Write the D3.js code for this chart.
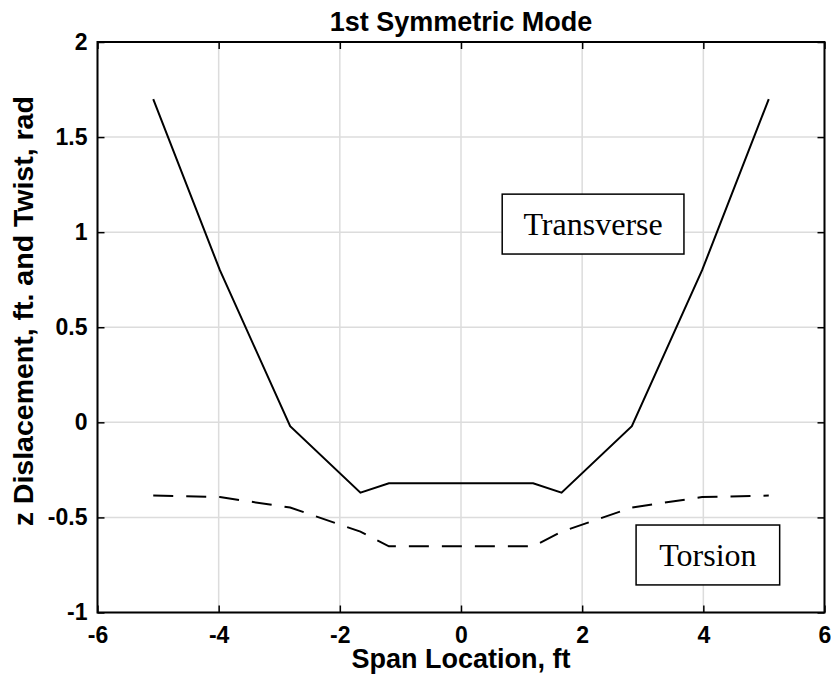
<!DOCTYPE html>
<html>
<head>
<meta charset="utf-8">
<script src="https://cdn.jsdelivr.net/npm/d3@7"></script>
<style>
  html, body { margin: 0; padding: 0; background: #fff; }
  svg { display: block; }
</style>
</head>
<body>
<svg id="chart" width="831" height="675"></svg>
<script>
// ---- data ----
const spanX      = [-5.08, -3.98, -2.82, -1.66, -1.19, 1.19, 1.66, 2.82, 3.98, 5.08];
const transverse = [1.70, 0.80, -0.02, -0.37, -0.32, -0.32, -0.37, -0.02, 0.80, 1.70];
const torsion    = [-0.385, -0.393, -0.448, -0.575, -0.652, -0.652, -0.575, -0.448, -0.393, -0.385];
const xTicks = [-6, -4, -2, 0, 2, 4, 6];
const yTicks = [-1, -0.5, 0, 0.5, 1, 1.5, 2];
const titleText = "1st Symmetric Mode";
const xLabel = "Span Location, ft";
const yLabel = "z Dislacement, ft. and Twist, rad";
const labelTransverse = "Transverse";
const labelTorsion = "Torsion";

// ---- layout ----
const L = 97.5, R = 824.5, T = 42, B = 612.5;
const svg = d3.select("#chart");
const x = d3.scaleLinear().domain([-6, 6]).range([L, R]);
const y = d3.scaleLinear().domain([-1, 2]).range([B, T]);
const sans = "Liberation Sans, Arial, Helvetica, sans-serif";
const serif = "Liberation Serif, Times New Roman, serif";
const fmt = d => String(d);

// grid
svg.append("g").selectAll("line").data(xTicks).join("line")
  .attr("x1", d => x(d)).attr("x2", d => x(d)).attr("y1", T).attr("y2", B)
  .attr("stroke", "#dcdcdc").attr("stroke-width", 1.5);
svg.append("g").selectAll("line").data(yTicks).join("line")
  .attr("x1", L).attr("x2", R).attr("y1", d => y(d)).attr("y2", d => y(d))
  .attr("stroke", "#dcdcdc").attr("stroke-width", 1.5);

// axes with inward ticks
const tl = 7;
const axB = svg.append("g").attr("transform", `translate(0,${B})`)
  .call(d3.axisBottom(x).tickValues(xTicks).tickFormat(fmt).tickSizeInner(-tl).tickSizeOuter(0).tickPadding(14));
const axT = svg.append("g").attr("transform", `translate(0,${T})`)
  .call(d3.axisTop(x).tickValues(xTicks).tickFormat("").tickSizeInner(-tl).tickSizeOuter(0));
const axL = svg.append("g").attr("transform", `translate(${L},0)`)
  .call(d3.axisLeft(y).tickValues(yTicks).tickFormat(fmt).tickSizeInner(-tl).tickSizeOuter(0).tickPadding(10));
const axR = svg.append("g").attr("transform", `translate(${R},0)`)
  .call(d3.axisRight(y).tickValues(yTicks).tickFormat("").tickSizeInner(-tl).tickSizeOuter(0));
[axB, axT, axL, axR].forEach(a => {
  a.select(".domain").remove();
  a.selectAll(".tick line").attr("stroke", "#000").attr("stroke-width", 1.5);
  a.selectAll(".tick text").attr("fill", "#000")
    .style("font-family", sans).style("font-weight", "bold").style("font-size", "23px");
});

// box
svg.append("rect").attr("x", L).attr("y", T).attr("width", R - L).attr("height", B - T)
  .attr("fill", "none").attr("stroke", "#000").attr("stroke-width", 2);

// lines
const line = d3.line().x(d => x(d[0])).y(d => y(d[1]));
svg.append("path").datum(spanX.map((v, i) => [v, transverse[i]]))
  .attr("d", line).attr("fill", "none").attr("stroke", "#000").attr("stroke-width", 2);
svg.append("path").datum(spanX.map((v, i) => [v, torsion[i]]))
  .attr("d", line).attr("fill", "none").attr("stroke", "#000").attr("stroke-width", 2)
  .attr("stroke-dasharray", "20,13");

// annotation boxes
function annot(x0, x1, y0, y1, text) {
  const px0 = x(x0), px1 = x(x1), py0 = y(y0), py1 = y(y1);
  svg.append("rect").attr("x", px0).attr("y", py0).attr("width", px1 - px0).attr("height", py1 - py0)
    .attr("fill", "#fff").attr("stroke", "#000").attr("stroke-width", 1.5);
  svg.append("text").attr("x", (px0 + px1) / 2).attr("y", (py0 + py1) / 2)
    .attr("text-anchor", "middle").attr("dy", "0.35em")
    .style("font-family", serif).style("font-size", "32px").attr("fill", "#000").text(text);
}
annot(0.68, 3.68, 1.20, 0.885, labelTransverse);
annot(2.89, 5.26, -0.54, -0.855, labelTorsion);

// title & labels
svg.append("text").attr("x", (L + R) / 2).attr("y", 31).attr("text-anchor", "middle")
  .style("font-family", sans).style("font-weight", "bold").style("font-size", "27px").text(titleText);
svg.append("text").attr("x", (L + R) / 2).attr("y", 668).attr("text-anchor", "middle")
  .style("font-family", sans).style("font-weight", "bold").style("font-size", "27px").text(xLabel);
svg.append("text").attr("transform", `translate(33,${(T + B) / 2 - 16}) rotate(-90)`).attr("text-anchor", "middle")
  .style("font-family", sans).style("font-weight", "bold").style("font-size", "28.5px").text(yLabel);
</script>
</body>
</html>
